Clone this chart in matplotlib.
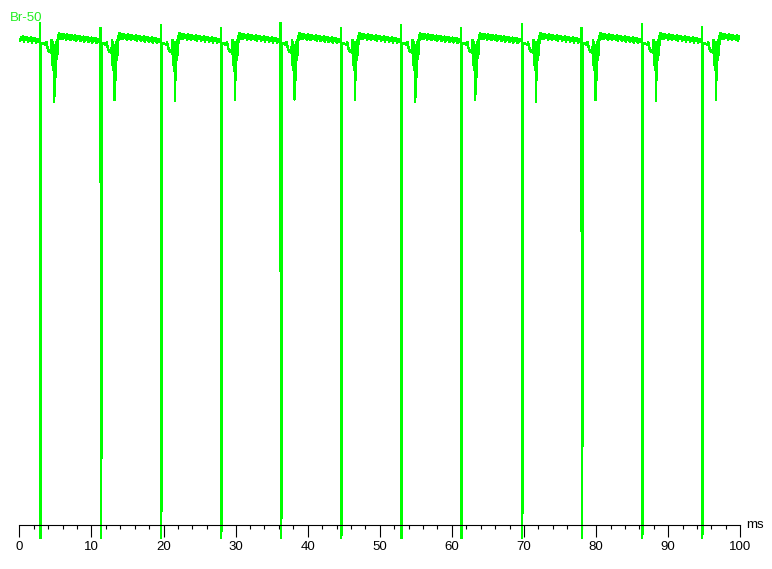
import numpy as np
import matplotlib.pyplot as plt

plt.rcParams['font.family'] = ['Liberation Sans', 'DejaVu Sans']

# spike times (ms)
spike_times = [2.91, 11.28, 19.65, 27.97, 36.24, 44.62, 52.98, 61.30, 69.72, 77.99, 86.37, 94.69]
# small overshoot above baseline at each spike
spike_tops = [3.0, 2.0, 2.6, 2.0, 3.0, 2.0, 2.6, 2.0, 2.8, 2.0, 2.8, 2.2]
# where the dense (thick) part of each spike ends
spike_thick_ends = [-97.0, -82.8, -77.6, -94.8, -96.0, -96.8, -99.8, -97.0, -78.2, -81.0, -95.4, -96.0]
spike_floor = -100.0
# depth of the second, narrow dip ~2 ms after each spike
dip_depths = [-12.7, -12.4, -12.6, -12.4, -12.3, -12.3, -12.7, -12.4, -12.7, -12.4, -12.6, -12.4]

# shape right after the spike (ms after spike, value)
after_offsets = [0.15, 0.40, 0.70, 0.85, 0.97, 1.10, 1.25, 1.40, 1.50, 1.58, 1.66, 1.73,
                 1.80, 1.87, 1.94, 2.00, 2.08, 2.15, 2.22, 2.29, 2.36, 2.43, 2.50, 2.57]
after_values = [-1.2, -1.0, -1.4, -0.8, -1.8, -2.4, -2.8, -2.4, -3.0, -0.4, -5.4, -0.8,
                -6.4, -1.4, None, -2.4, -8.4, -0.8, -4.4, -0.4, -3.4, 0.4, -0.4, 1.0]
DIP_IDX = 14

# noisy baseline between recovery and the next spike
base_values = [0.9, -0.1, 0.7, -0.2, 0.8, 0.0, 0.6, -0.3, 0.7, -0.1, 0.5, -0.4, 0.6, -0.2,
               0.4, -0.3, 0.5, -0.5, 0.3, -0.2, 0.4, -0.6, 0.2, -0.3, 0.3, -0.7, 0.1, -0.4,
               0.2, -0.8, 0.0, -0.5, 0.1, -0.9, -0.1, -0.6, 0.0, -1.0, -0.2, -0.7, -0.3]
base_offsets = np.linspace(2.65, 8.2, len(base_values))

# build the trace
t, v = [], []
prev = spike_times[0] - (spike_times[1] - spike_times[0])
for o, b in zip(base_offsets, base_values):
    if prev + o >= 0:
        t.append(prev + o)
        v.append(b)

for i, ts in enumerate(spike_times):
    t += [ts - 0.04, ts, ts + 0.03, ts + 0.10, ts + 0.14]
    v += [-0.4, spike_tops[i], spike_floor, spike_thick_ends[i], -1.0]
    vals = list(after_values)
    vals[DIP_IDX] = dip_depths[i]
    t += [ts + o for o in after_offsets]
    v += vals
    t += [ts + o for o in base_offsets]
    v += base_values

t = np.array(t)
v = np.array(v)
keep = t <= 100
t, v = t[keep], v[keep]

fig = plt.figure(figsize=(7.72, 5.69), dpi=100)
ax = fig.add_axes([19.3 / 772, 0, 721 / 772, 1])
ax.plot(t, v, color='#00ff00', lw=1.0, antialiased=False)

ax.set_xlim(0, 100)
ax.set_ylim((38 - 569) / 5, 38 / 5)

ax.spines[['top', 'left', 'right']].set_visible(False)
ax.spines['bottom'].set_position(('data', (38 - 525) / 5))
ax.spines['bottom'].set_linewidth(0.8)
ax.set_yticks([])
ax.set_xticks(range(0, 101, 10))
ax.set_xticks(np.arange(0, 101, 2), minor=True)
ax.tick_params(axis='x', which='major', direction='out', length=8.5, width=0.8,
               pad=3, labelsize=9.5, colors='black')
ax.tick_params(axis='x', which='minor', direction='out', length=3, width=0.8)

fig.text(755 / 772, 1 - 525 / 569, 'ms', ha='center', va='center', fontsize=9.5)
fig.text(10 / 772, 1 - 18 / 569, 'Br-50', ha='left', va='center', fontsize=9.5, color='#22ee22')

fig.savefig('out.png', dpi=100)
